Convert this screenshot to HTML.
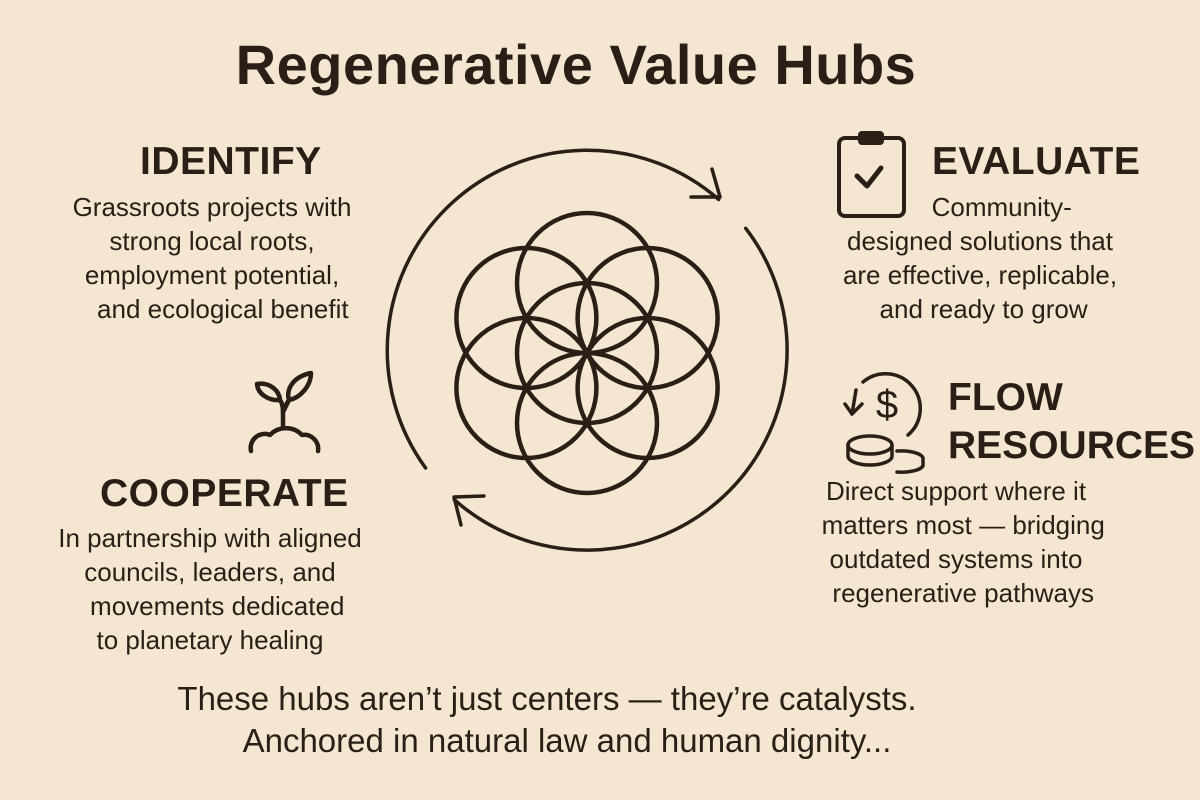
<!DOCTYPE html>
<html><head><meta charset="utf-8"><style>
html,body{margin:0;padding:0}
body{width:1200px;height:800px;background:#f4e6d0;position:relative;overflow:hidden;font-family:"Liberation Sans",sans-serif;color:#2a1f17}
.t{position:absolute;white-space:nowrap}
.h{font-weight:bold;font-size:39px;letter-spacing:0.5px}
.b{font-size:26px;line-height:34px;text-align:center}
</style></head><body>
<div class="t" style="left:0;width:1152px;top:32px;text-align:center;font-size:56px;font-weight:bold;letter-spacing:0.5px">Regenerative Value Hubs</div>

<div class="t h" style="left:140px;top:140px">IDENTIFY</div>
<div class="t b" style="left:42px;width:340px;top:190px">Grassroots projects with<br>strong local roots,<br>employment potential,<br>&nbsp;&nbsp;&nbsp;and ecological benefit</div>

<div class="t h" style="left:932px;top:140px">EVALUATE</div>
<div class="t b" style="left:820px;width:320px;top:190px">&nbsp;&nbsp;&nbsp;&nbsp;&nbsp;&nbsp;Community-<br>designed solutions that<br>are effective, replicable,<br>&nbsp;and ready to grow</div>

<div class="t h" style="left:948px;top:374px;line-height:48px;letter-spacing:0">FLOW<br>RESOURCES</div>
<div class="t b" style="left:796px;width:320px;top:474px">Direct support where it<br>&nbsp;&nbsp;matters most — bridging<br>outdated systems into<br>&nbsp;&nbsp;regenerative pathways</div>

<div class="t h" style="left:100px;top:472px">COOPERATE</div>
<div class="t b" style="left:40px;width:340px;top:521px">In partnership with aligned<br>councils, leaders, and<br>&nbsp;&nbsp;movements dedicated<br>to planetary healing</div>

<div class="t" style="left:0;width:1094px;top:678px;text-align:center;font-size:33px;line-height:42px">These hubs aren’t just centers — they’re catalysts.<br><span style="padding-left:40px">Anchored in natural law and human dignity...</span></div>

<svg width="1200" height="800" style="position:absolute;left:0;top:0" fill="none" stroke="#2a1f17" stroke-linecap="round" stroke-linejoin="round">
<g stroke-width="4.5">
<circle cx="587" cy="283" r="70"/>
<circle cx="587" cy="353" r="70"/>
<circle cx="587" cy="423" r="70"/>
<circle cx="526.4" cy="318" r="70"/>
<circle cx="647.6" cy="318" r="70"/>
<circle cx="526.4" cy="388" r="70"/>
<circle cx="647.6" cy="388" r="70"/>
</g>
<g stroke-width="3.5">
<path d="M425.6 468 A200 200 0 0 1 718.7 199.5"/>
<path d="M712 169 L720 197 L691 197"/>
<path d="M745.7 228.3 A200 200 0 0 1 454.2 499.6"/>
<path d="M484 496 L454 497 L461 525"/>
</g>
<g stroke-width="4">
<rect x="839" y="138" width="65" height="78" rx="6"/>
<rect x="860" y="133" width="22" height="10" rx="2" fill="#2a1f17"/>
<path d="M857 176 L867 186 L881 168" stroke-width="5"/>
</g>
<g stroke-width="3.5">
<path d="M908 435 A33 33 0 1 0 863 382"/>
<path d="M845 404 L852 414 L862 404"/>
<path d="M852 414 L856 390"/>
<text x="887" y="418" font-family="Liberation Sans" font-size="40" fill="#2a1f17" stroke="none" text-anchor="middle">$</text>
<ellipse cx="870" cy="445" rx="22" ry="9"/>
<path d="M848 445 L848 456 A22 9 0 0 0 892 456 L892 445"/>
<path d="M897 451 A22 8 0 0 1 923 458 L923 466 A22 8 0 0 1 897 472"/>
</g>
<g stroke-width="4.5">
<path d="M251 451 A14 14 0 0 1 270 435 A22 22 0 0 1 302 435 A14 14 0 0 1 318 451"/>
<path d="M283 428 L283 412 Q283 404 280 400"/>
<path d="M280 400 C270 401 258 395 257 384 C268 382 279 389 280 400 Z"/>
<path d="M283 412 Q286 404 289 400 C286 390 292 377 311 373 C311 386 300 398 289 400 Z"/>
</g>
</svg>
</body></html>
